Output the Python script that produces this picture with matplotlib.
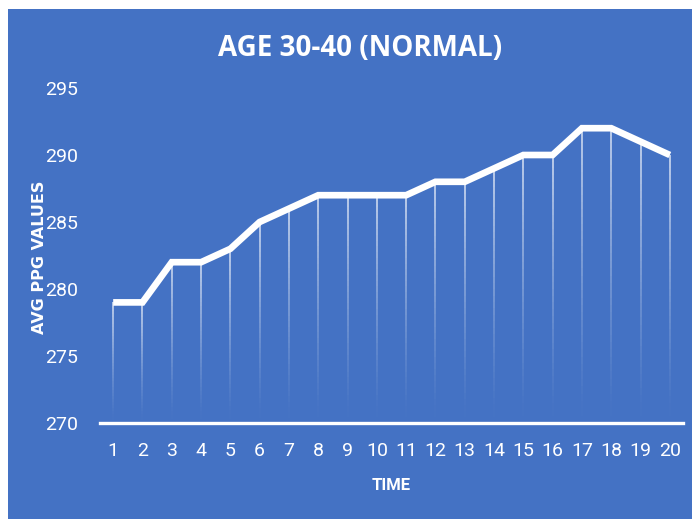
import numpy as np
import matplotlib
matplotlib.use("Agg")
import matplotlib.pyplot as plt
from matplotlib.collections import LineCollection
from matplotlib.patches import Rectangle

# Average PPG readings for the 30-40 age group
time_points = list(range(1, 21))
avg_ppg = [279, 279, 282, 282, 283, 285, 286, 287, 287, 287,
           287, 288, 288, 289, 290, 290, 292, 292, 291, 290]
y_ticks = [270, 275, 280, 285, 290, 295]

BLUE = "#4472C4"
WHITE = "#FFFFFF"
TICK_FONT = ["Liberation Sans Narrow", "Roboto", "DejaVu Sans"]

W, H = 692, 519
fig = plt.figure(figsize=(W / 100, H / 100), dpi=100, facecolor=WHITE)

# blue chart area with a thin white margin on top and left
fig.patches.append(Rectangle((8 / W, 0), 1 - 8 / W, 1 - 9 / H,
                             transform=fig.transFigure, facecolor=BLUE,
                             edgecolor="none", zorder=-10))

ax = fig.add_axes([100 / W, 1 - 423 / H, (683 - 100) / W, (423 - 88) / H])
ax.set_zorder(1)
ax.set_facecolor("none")
ax.set_xlim(0.55, 20.45)
ax.set_ylim(270, 295)

# drop lines from each point, fading toward the axis
n_seg = 40
for x, v in zip(time_points, avg_ppg):
    ys = np.linspace(270, v, n_seg + 1)
    segs = [[(x, ys[i]), (x, ys[i + 1])] for i in range(n_seg)]
    alphas = np.linspace(0.0, 0.85, n_seg) ** 1.3
    colors = [(1, 1, 1, a) for a in alphas]
    ax.add_collection(LineCollection(segs, colors=colors, linewidths=1.1,
                                     zorder=2))

ax.plot(time_points, avg_ppg, color=WHITE, lw=4.8, solid_capstyle="butt",
        solid_joinstyle="miter", zorder=3)

for s in ["top", "right", "left"]:
    ax.spines[s].set_visible(False)
ax.spines["bottom"].set_color(WHITE)
ax.spines["bottom"].set_linewidth(2.4)

ax.set_xticks(time_points)
ax.set_xticklabels([str(t) for t in time_points])
ax.set_yticks(y_ticks)
ax.set_yticklabels([str(t) for t in y_ticks])
ax.tick_params(axis="both", length=0, colors=WHITE, labelsize=14)
ax.tick_params(axis="x", pad=14)
ax.tick_params(axis="y", pad=16)
for lab in ax.get_xticklabels() + ax.get_yticklabels():
    lab.set_family(TICK_FONT)

fig.text(360 / W, 1 - 48 / H, "AGE 30-40 (NORMAL)", ha="center",
         va="center", color=WHITE, fontsize=20, fontweight="bold",
         family=["Open Sans", "DejaVu Sans"])
fig.text(40 / W, 1 - 257 / H, "AVG PPG VALUES", ha="center", va="center",
         rotation=90, color=WHITE, fontsize=11.5, fontweight="bold",
         family=["DejaVu Sans"])
fig.text(391 / W, 1 - 486 / H, "TIME", ha="center", va="center",
         color=WHITE, fontsize=12, fontweight="bold", family=TICK_FONT)

fig.savefig("out.png", dpi=100, facecolor=WHITE)
